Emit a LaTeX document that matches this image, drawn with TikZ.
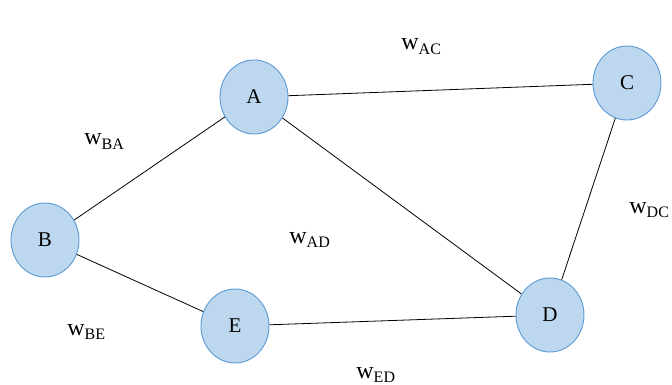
\documentclass[tikz,border=0pt]{standalone}
\usepackage{fontspec}
\setmainfont{Liberation Serif}
\usetikzlibrary{shapes.geometric}
\newcommand{\wsub}[1]{w\raisebox{-0.2em}{\fontsize{16}{16}\selectfont #1}}
\begin{document}
\begin{tikzpicture}[x=1pt, y=-1pt, line width=0.8pt,
  vertex/.style={ellipse, draw={rgb,255:red,91;green,155;blue,213}, line width=0.9pt,
    fill={rgb,255:red,189;green,215;blue,238}, minimum width=68pt, minimum height=74pt,
    inner sep=0pt, font=\fontsize{21}{24}\selectfont},
  weight/.style={anchor=base west, inner sep=0pt, font=\fontsize{24}{26}\selectfont}]
  \useasboundingbox (0,0) rectangle (672,385);
  \node[vertex] (A) at (254,97) {A};
  \node[vertex] (B) at (45,240) {B};
  \node[vertex] (C) at (627,83) {C};
  \node[vertex] (D) at (550,315) {D};
  \node[vertex] (E) at (235,326) {E};
  \draw (A) -- (C);
  \draw (A) -- (B);
  \draw (A) -- (D);
  \draw (B) -- (E);
  \draw (E) -- (D);
  \draw (D) -- (C);
  \node[weight] (wAC) at (401,50) {\wsub{AC}};
  \node[weight] (wBA) at (84,145) {\wsub{BA}};
  \node[weight] (wDC) at (629,213) {\wsub{DC}};
  \node[weight] (wAD) at (289,243) {\wsub{AD}};
  \node[weight] (wBE) at (67,335) {\wsub{BE}};
  \node[weight] (wED) at (356,378) {\wsub{ED}};
\end{tikzpicture}
\end{document}
